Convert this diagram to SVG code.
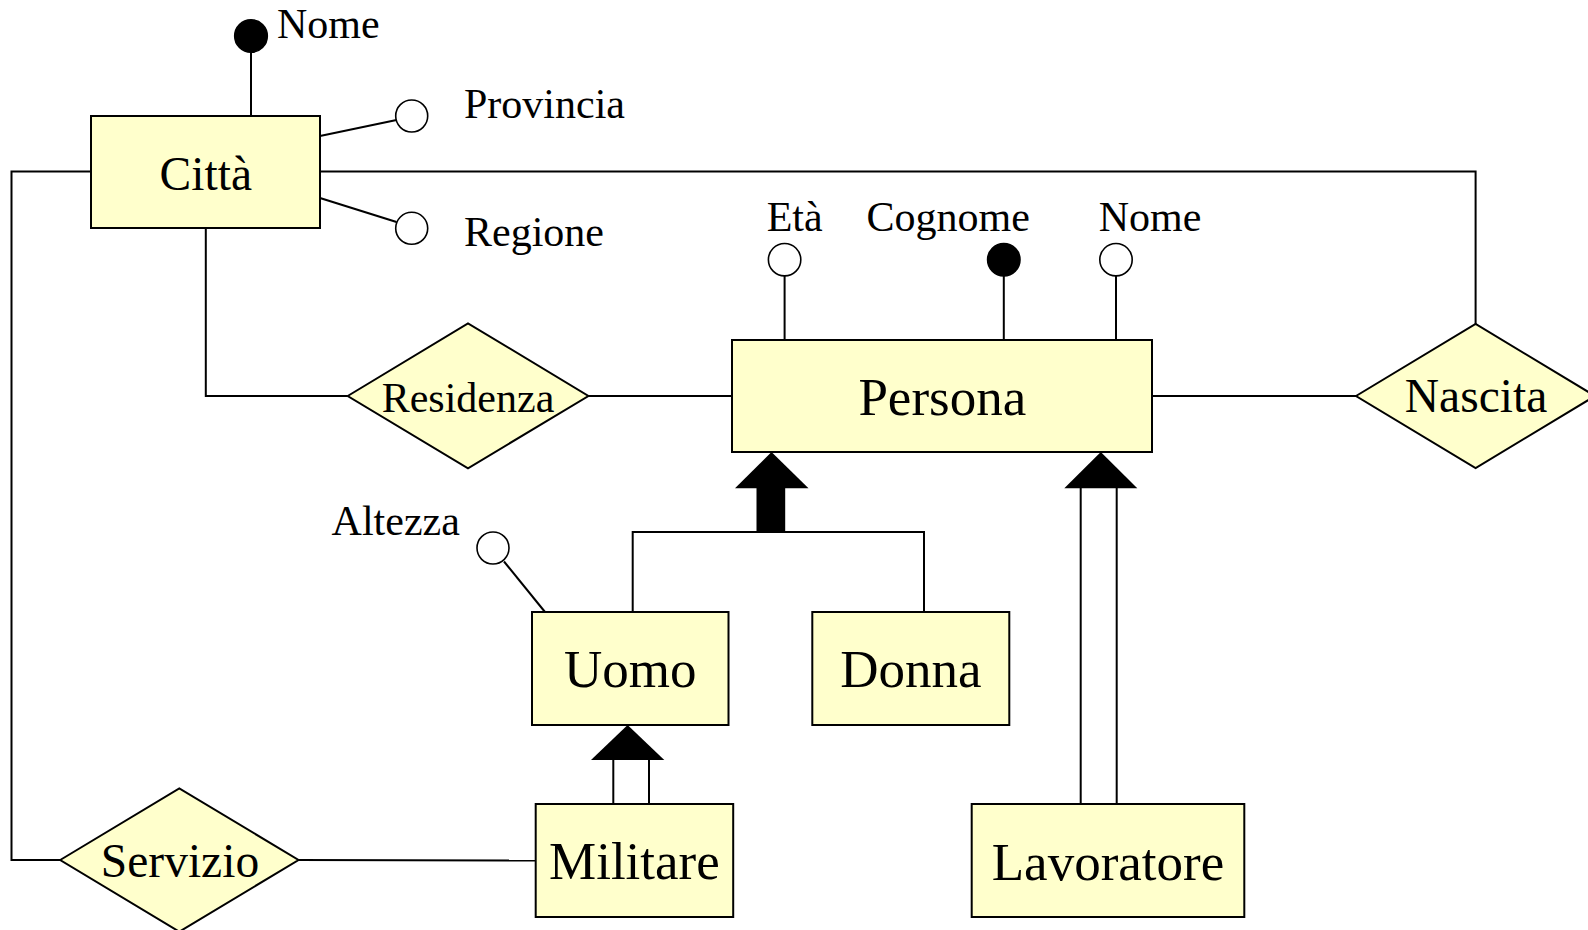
<svg xmlns="http://www.w3.org/2000/svg" width="1588" height="930" viewBox="0 0 1588 930">
<style>
.ent{fill:#FFFFCC;stroke:#000;stroke-width:2}
.rel{fill:#FFFFCC;stroke:#000;stroke-width:2}
.ln{fill:none;stroke:#000;stroke-width:2}
.ao{fill:#fff;stroke:#000;stroke-width:1.6}
.af{fill:#000;stroke:#000;stroke-width:1.6}
.tri{fill:#000;stroke:none}
text{font-family:"Liberation Serif","Times New Roman",serif;fill:#000}
.t42{font-size:42px}
.t47{font-size:47.5px}
.t53{font-size:53px}
.mid{text-anchor:middle}
</style>
<rect width="1588" height="930" fill="#fff"/>
<g id="connectors">
  <polyline class="ln" points="251,116 251,52"/>
  <polyline class="ln" points="320,136 396.5,120"/>
  <polyline class="ln" points="320,198 396.5,222"/>
  <polyline class="ln" points="320,171.5 1475.6,171.5 1475.6,324"/>
  <polyline class="ln" points="91,171.5 11.5,171.5 11.5,860 60.2,860"/>
  <polyline class="ln" points="205.8,228 205.8,396 347.7,396"/>
  <polyline class="ln" points="588.4,396 732,396"/>
  <polyline class="ln" points="1152,396 1356,396"/>
  <polyline class="ln" points="784.6,276 784.6,340"/>
  <polyline class="ln" points="1003.8,276 1003.8,340"/>
  <polyline class="ln" points="1116,276 1116,340"/>
  <polyline class="ln" points="504,561.5 545,612"/>
  <polyline class="ln" points="298.5,860 536,860.5"/>
  <!-- total generalization Persona <- Uomo, Donna -->
  <polygon class="tri" points="771.5,452 735,488.3 808.5,488.3"/>
  <rect class="tri" x="756.5" y="487" width="28.7" height="46"/>
  <polyline class="ln" points="632.7,612 632.7,532 924,532 924,612"/>
  <!-- Militare -> Uomo -->
  <polygon class="tri" points="627.6,725 591,760 664.3,760"/>
  <line class="ln" x1="613.3" y1="759" x2="613.3" y2="804"/>
  <line class="ln" x1="649" y1="759" x2="649" y2="804"/>
  <!-- Lavoratore -> Persona -->
  <polygon class="tri" points="1100.8,452 1064.3,488.3 1137.3,488.3"/>
  <line class="ln" x1="1080.7" y1="487" x2="1080.7" y2="804"/>
  <line class="ln" x1="1116.7" y1="487" x2="1116.7" y2="804"/>
</g>
<g id="citta">
  <rect class="ent" x="91" y="116" width="229" height="112"/>
  <text class="t47 mid" x="205.8" y="190">Città</text>
</g>
<g id="citta-nome">
  <circle class="af" cx="251" cy="36" r="16.3"/>
  <text class="t42" x="277" y="38.3">Nome</text>
</g>
<g id="citta-provincia">
  <circle class="ao" cx="411.7" cy="116" r="16"/>
  <text class="t42" x="464" y="118">Provincia</text>
</g>
<g id="citta-regione">
  <circle class="ao" cx="411.7" cy="228.3" r="16"/>
  <text class="t42" x="464" y="246">Regione</text>
</g>
<g id="residenza">
  <polygon class="rel" points="347.7,396 468,323.3 588.4,396 468,468.3"/>
  <text class="t42 mid" x="468" y="411.7">Residenza</text>
</g>
<g id="persona">
  <rect class="ent" x="732" y="340" width="420" height="112"/>
  <text class="t53 mid" x="942.3" y="415">Persona</text>
</g>
<g id="persona-eta">
  <circle class="ao" cx="784.6" cy="259.7" r="16.2"/>
  <text class="t42" x="766.7" y="230.7">Età</text>
</g>
<g id="persona-cognome">
  <circle class="af" cx="1003.8" cy="259.7" r="16.2"/>
  <text class="t42" x="866.6" y="230.7">Cognome</text>
</g>
<g id="persona-nome">
  <circle class="ao" cx="1116" cy="259.7" r="16.2"/>
  <text class="t42" x="1098.7" y="230.7">Nome</text>
</g>
<g id="nascita">
  <polygon class="rel" points="1356,396 1475.6,324 1595,396 1475.6,468"/>
  <text class="t47 mid" x="1476" y="411.7">Nascita</text>
</g>
<g id="uomo">
  <rect class="ent" x="532" y="612" width="196.5" height="113"/>
  <text class="t53 mid" x="630.3" y="687.3">Uomo</text>
</g>
<g id="uomo-altezza">
  <circle class="ao" cx="493" cy="548" r="16"/>
  <text class="t42" x="331.6" y="535">Altezza</text>
</g>
<g id="donna">
  <rect class="ent" x="812.3" y="612" width="197" height="113"/>
  <text class="t53 mid" x="910.8" y="687.3">Donna</text>
</g>
<g id="militare">
  <rect class="ent" x="535.7" y="804" width="197.5" height="113"/>
  <text class="t53 mid" x="634.4" y="879.3">Militare</text>
</g>
<g id="lavoratore">
  <rect class="ent" x="971.7" y="804" width="272.6" height="113"/>
  <text class="t53 mid" x="1108" y="880">Lavoratore</text>
</g>
<g id="servizio">
  <polygon class="rel" points="60.2,860 179.3,788.3 298.5,860 179.3,931.7"/>
  <text class="t47 mid" x="180" y="876.7">Servizio</text>
</g>
</svg>
